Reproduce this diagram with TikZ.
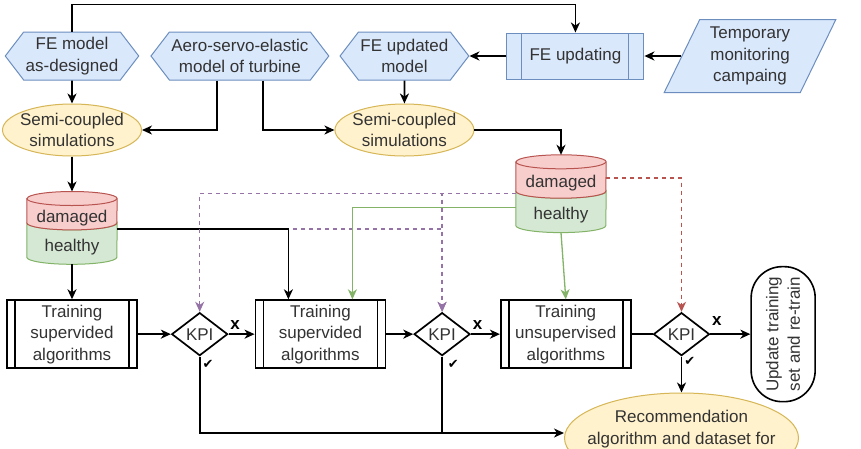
\documentclass[tikz,border=0pt]{standalone}
\usepackage{fontspec}
\setmainfont{Liberation Sans}
\newfontfamily\symfont{DejaVu Sans}
\usepackage{tikz}
\usetikzlibrary{shapes.geometric, shapes.symbols, arrows.meta, positioning, calc, backgrounds}
\definecolor{hexfill}{HTML}{DAE8FC}
\definecolor{hexdraw}{HTML}{6C8EBF}
\definecolor{simfill}{HTML}{FFF2CC}
\definecolor{simdraw}{HTML}{D6B656}
\definecolor{dmgfill}{HTML}{F8CECC}
\definecolor{dmgdraw}{HTML}{B85450}
\definecolor{hltfill}{HTML}{D5E8D4}
\definecolor{hltdraw}{HTML}{82B366}
\definecolor{kpiviolet}{HTML}{9673A6}
\definecolor{inktext}{HTML}{333333}

% cylinder: damaged part on top, healthy part below
\newcommand{\datastore}[2]{%
  \filldraw[hltdraw, fill=hltfill, line width=1pt]
    ([yshift=6pt]#1.south west) -- ([yshift=7pt]#2.south west)
    arc[start angle=180, end angle=360, x radius=45pt, y radius=7pt]
    -- ([yshift=6pt]#1.south east)
    arc[start angle=0, end angle=-180, x radius=45pt, y radius=7pt] -- cycle;
  \filldraw[dmgdraw, fill=dmgfill, line width=1pt]
    ([yshift=8pt]#1.north west) -- ([yshift=6pt]#1.south west)
    arc[start angle=180, end angle=360, x radius=45pt, y radius=7pt]
    -- ([yshift=8pt]#1.north east)
    arc[start angle=0, end angle=180, x radius=45pt, y radius=7pt] -- cycle;
  \draw[dmgdraw, line width=1pt] ([yshift=8pt]#1.north west)
    arc[start angle=180, end angle=360, x radius=45pt, y radius=7pt];
}

\begin{document}
\begin{tikzpicture}[
    x=1pt, y=-1pt,
    font=\fontsize{17}{21.5}\selectfont,
    every node/.style={text=inktext},
    model/.style={
        signal, signal to=west and east, signal pointer angle=105,
        draw=hexdraw, fill=hexfill, line width=1pt, align=center,
        inner xsep=2pt, inner ysep=2pt, minimum height=48pt
    },
    updbox/.style={
        rectangle, draw=hexdraw, fill=hexfill, line width=1pt, align=center,
        minimum width=137pt, minimum height=46pt, inner sep=0pt,
        path picture={
            \draw[hexdraw, line width=1pt] ([xshift=15pt]path picture bounding box.north west) -- ([xshift=15pt]path picture bounding box.south west);
            \draw[hexdraw, line width=1pt] ([xshift=-15pt]path picture bounding box.north east) -- ([xshift=-15pt]path picture bounding box.south east);
        }
    },
    monitor/.style={
        trapezium, trapezium left angle=64, trapezium right angle=116,
        draw=hexdraw, fill=hexfill, line width=1pt, align=center,
        inner xsep=0pt, inner ysep=0pt, minimum height=73pt
    },
    sim/.style={
        ellipse, draw=simdraw, fill=simfill, line width=1pt, align=center,
        inner xsep=-20pt, inner ysep=-5pt, minimum width=139pt, minimum height=52pt
    },
    cyltext/.style={rectangle, minimum width=90pt, inner sep=0pt},
    trainbox/.style={
        rectangle, draw=black, line width=1.7pt, align=center,
        minimum width=130pt, minimum height=68pt, inner sep=0pt,
        path picture={
            \draw[line width=1.7pt] ([xshift=8pt]path picture bounding box.north west) -- ([xshift=8pt]path picture bounding box.south west);
            \draw[line width=1.7pt] ([xshift=-8pt]path picture bounding box.north east) -- ([xshift=-8pt]path picture bounding box.south east);
        }
    },
    kpi/.style={diamond, draw=black, line width=1.7pt, minimum width=56pt, minimum height=43pt, inner sep=0pt},
    retrain/.style={
        rectangle, rounded corners=31pt, draw=black, line width=1.6pt, align=center,
        rotate=90, minimum width=135pt, minimum height=64pt, inner sep=0pt
    },
    arr/.style={-{Stealth[length=10pt, width=9pt, inset=3pt]}, line width=1.7pt},
    plain/.style={line width=1.7pt},
    probe/.style={arr, draw=kpiviolet, line width=1.3pt, dash pattern=on 4pt off 4pt},
    feed/.style={arr, draw=hltdraw, line width=1.3pt},
    alarm/.style={arr, draw=dmgdraw, line width=1.3pt, dash pattern=on 4pt off 4pt},
    xlbl/.style={font=\bfseries\fontsize{17}{17}\selectfont, text=black, inner sep=1pt},
    oklbl/.style={font=\symfont\fontsize{13}{13}\selectfont, text=black, inner sep=2pt}
]

\useasboundingbox (0,0) rectangle (861,448);

% Models and inputs
\node[model] (fe1) at (72,56) {FE model\\as-designed};
\node[model, right=11pt of fe1] (ase) {Aero-servo-elastic\\model of turbine};
\node[model, right=10pt of ase] (feu) {FE updated\\model};
\node[updbox, right=37pt of feu] (upd) {FE updating};
\node[monitor, right=37pt of upd] (tmc) {Temporary\\monitoring\\campaing};

% Simulations
\node[sim, below=23pt of fe1] (sim1) {Semi-coupled\\simulations};
\node[sim, below=23pt of feu] (sim2) {Semi-coupled\\simulations};

% Data stores
\node[cyltext, minimum height=22pt, below=50pt of sim1] (dmgA) {damaged};
\node[cyltext, minimum height=34pt, below=1pt of dmgA] (hltA) {healthy};
\node[cyltext, minimum height=27pt] (dmgB) at (561,183.5) {damaged};
\node[cyltext, minimum height=34pt, below=1pt of dmgB] (hltB) {healthy};

% Training and KPI checks
\node[trainbox, below=35pt of hltA] (trn1) {Training\\supervided\\algorithms};
\node[kpi, right=33pt of trn1] (kpi1) {KPI};
\node[trainbox, right=26pt of kpi1] (trn2) {Training\\supervided\\algorithms};
\node[kpi, right=27pt of trn2] (kpi2) {KPI};
\node[trainbox, right=29pt of kpi2] (trn3) {Training\\unsupervised\\algorithms};
\node[kpi, right=21pt of trn3] (kpi3) {KPI};
\node[retrain, right=40pt of kpi3, anchor=north] (upd2) {Update training\\set and re-train};
\node[sim, minimum width=234pt, minimum height=90pt, below=36pt of kpi3] (rec) {Recommendation\\algorithm and dataset for\\model selection};

\begin{scope}[on background layer]
    \fill[white] (0,0) rectangle (861,448);
    \datastore{dmgA}{hltA}
    \datastore{dmgB}{hltB}
\end{scope}

% Relations
\draw[arr] (fe1.north) -- ++(0,-27) -| (upd.north);
\draw[arr] (tmc.west) -- (upd.east);
\draw[arr] (upd.west) -- (feu.east);
\draw[arr] (fe1) -- (sim1);
\draw[arr] (feu) -- (sim2);
\draw[arr] ([xshift=-23pt]ase.south) |- (sim1.east);
\draw[arr] ([xshift=23pt]ase.south) |- (sim2.west);
\draw[arr] (sim1) -- ([yshift=15pt]dmgA.north);
\draw[arr] (sim2.east) -| ([yshift=15pt]dmgB.north);
\draw[arr] (hltA.south) -- (trn1.north);

\draw[probe] (dmgA.south east) -| (kpi2.north);
\draw[arr] (dmgA.south east) -| ([xshift=-32pt]trn2.north);
\draw[probe] ([yshift=4pt]dmgB.south west) -| (kpi1.north);
\draw[probe] ([yshift=4pt]dmgB.south west) -| (kpi2.north);
\draw[feed] ([yshift=8pt]hltB.west) -| ([xshift=32pt]trn2.north);
\draw[feed] (hltB.south) -- (trn3.north);
\draw[alarm] ([yshift=5.5pt]dmgB.east) -| (kpi3.north);

\draw[arr] (trn1) -- (kpi1);
\draw[arr] (kpi1) -- node[xlbl, pos=0, anchor=south west, yshift=3pt] (no1) {x} (trn2);
\draw[arr] (trn2) -- (kpi2);
\draw[arr] (kpi2) -- node[xlbl, pos=0, anchor=south west, yshift=3pt] (no2) {x} (trn3);
\draw[plain] (trn3) -- (kpi3);
\draw[arr] (kpi3) -- node[xlbl, pos=0, anchor=south west, yshift=7pt] (no3) {x} (upd2);

\coordinate (recin) at ([yshift=5pt]rec.west);
\draw[arr] (kpi1.south) |- node[oklbl, pos=0.053, right] (ok1) {✔} (recin);
\draw[plain] (kpi2.south) -- node[oklbl, pos=0.107, right, xshift=3pt] (ok2) {✔} (kpi2.south |- recin);
\draw[arr] (kpi3.south) -- node[oklbl, pos=0.14, right] (ok3) {✔} (rec);

\end{tikzpicture}
\end{document}
